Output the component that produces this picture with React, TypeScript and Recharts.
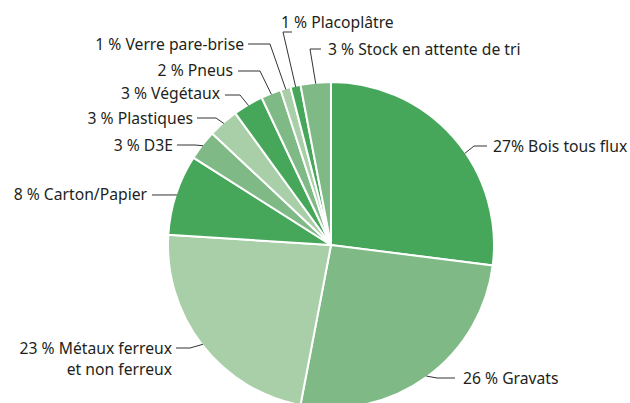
import { PieChart, Pie, Cell } from "recharts";

const CATEGORIES = [
  "Bois tous flux",
  "Gravats",
  "Métaux ferreux|et non ferreux",
  "Carton/Papier",
  "D3E",
  "Plastiques",
  "Végétaux",
  "Pneus",
  "Verre pare-brise",
  "Placoplâtre",
  "Stock en attente de tri",
];
const SHARES = [27, 26, 23, 8, 3, 3, 3, 2, 1, 1, 3];
const PCT_LABELS = ["27%", "26 %", "23 %", "8 %", "3 %", "3 %", "3 %", "2 %", "1 %", "1 %", "3 %"];

const GREENS = ["#46a75b", "#7fba86", "#a8cfa7"];

// leader line + text placement relative to the pie centre
const LABEL_LAYOUT: {
  shift?: number;
  pts: [number, number][];
  text: [number, number];
  anchor: "start" | "end";
}[] = [
  { shift: -7, pts: [[143, -99], [156, -99]], text: [162, -99], anchor: "start" },
  { pts: [[106, 133], [124, 133]], text: [132, 133], anchor: "start" },
  { pts: [[-141, 103], [-155, 103]], text: [-159, 103], anchor: "end" },
  { pts: [[-179, -50]], text: [-184, -51], anchor: "end" },
  { pts: [[-136, -100], [-154, -100]], text: [-158, -100], anchor: "end" },
  { pts: [[-115, -127], [-134, -127]], text: [-138, -127], anchor: "end" },
  { pts: [[-91, -150], [-106, -150]], text: [-111, -152], anchor: "end" },
  { pts: [[-71, -174], [-93, -174]], text: [-98, -175], anchor: "end" },
  { pts: [[-61, -201], [-83, -201]], text: [-87, -201], anchor: "end" },
  { pts: [[-48, -213], [-39, -213]], text: [-50, -223], anchor: "start" },
  { pts: [[-21, -196], [-10, -196]], text: [-3, -196], anchor: "start" },
];

const data = CATEGORIES.map((name, i) => ({
  name,
  value: SHARES[i],
  pct: PCT_LABELS[i],
}));

const RADIAN = Math.PI / 180;

// eslint-disable-next-line @typescript-eslint/no-explicit-any
function renderLabel(props: any) {
  const { cx, cy, midAngle, outerRadius, index } = props;
  const lay = LABEL_LAYOUT[index];
  const a = (midAngle + (lay.shift || 0)) * RADIAN;
  const sx = cx + (outerRadius - 1) * Math.cos(-a);
  const sy = cy + (outerRadius - 1) * Math.sin(-a);
  const points = [[sx, sy], ...lay.pts.map(([dx, dy]) => [cx + dx, cy + dy])]
    .map((p) => p.join(","))
    .join(" ");
  const lines = `${PCT_LABELS[index]} ${CATEGORIES[index]}`.split("|");
  return (
    <g key={`lbl-${index}`}>
      <polyline points={points} fill="none" stroke="#333" strokeWidth={1} />
      <text
        x={cx + lay.text[0]}
        y={cy + lay.text[1]}
        textAnchor={lay.anchor}
        dominantBaseline="central"
        fill="#231f20"
        fontSize={15.7}
      >
        {lines.map((l, j) => (
          <tspan key={j} x={cx + lay.text[0]} dy={j === 0 ? 0 : 20.5}>
            {l}
          </tspan>
        ))}
      </text>
    </g>
  );
}

export default function App() {
  return (
    <div
      style={{
        position: "absolute",
        left: 0,
        top: 0,
        width: 630,
        height: 403,
        background: "#fff",
        fontFamily: "'Noto Sans', Lato, sans-serif",
        overflow: "hidden",
      }}
    >
      <PieChart width={630} height={403} margin={{ top: 0, right: 0, bottom: 0, left: 0 }}>
        <Pie
          data={data}
          dataKey="value"
          nameKey="name"
          cx={331}
          cy={245}
          outerRadius={163}
          startAngle={90}
          endAngle={-270}
          stroke="#fff"
          strokeWidth={2}
          label={renderLabel}
          labelLine={false}
          isAnimationActive={false}
        >
          {data.map((d, i) => (
            <Cell key={d.name} fill={GREENS[i % 3]} />
          ))}
        </Pie>
      </PieChart>
    </div>
  );
}
